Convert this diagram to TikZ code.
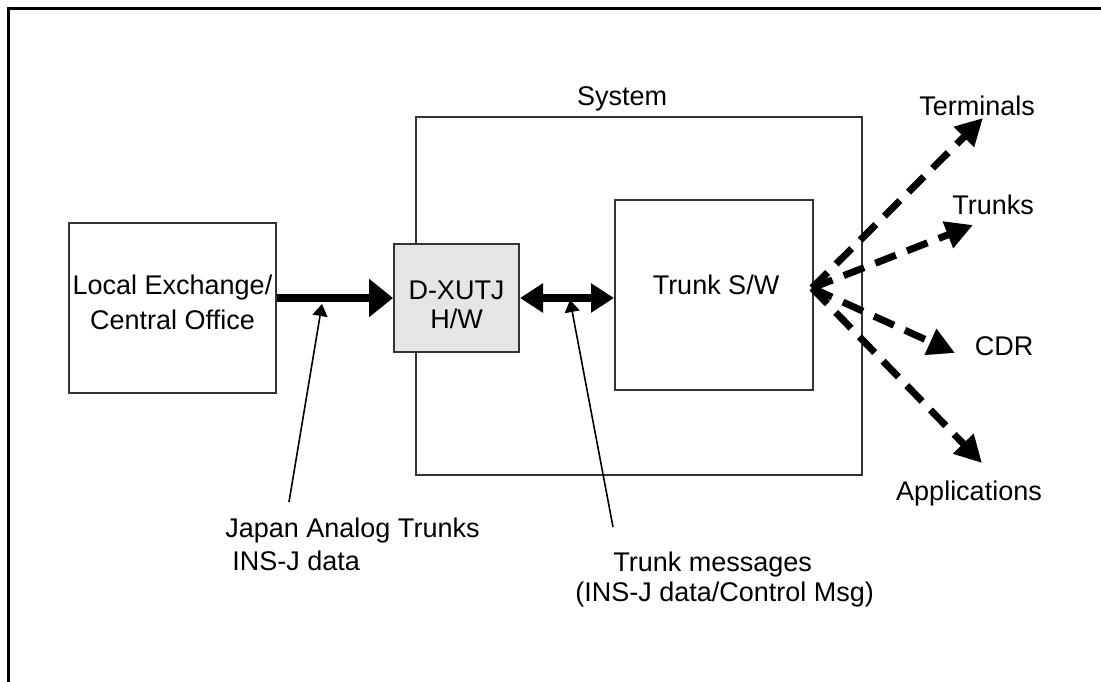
\documentclass[tikz,border=0pt]{standalone}
\usepackage{fontspec}
\setmainfont{Liberation Sans}
\usetikzlibrary{arrows.meta}

\begin{document}
\begin{tikzpicture}[x=0.5pt,y=-0.5pt,
    box/.style={draw=black!80,line width=1pt,inner sep=0pt},
    lbl/.style={inner sep=0pt,font=\fontsize{13.5}{16}\selectfont},
    bigarrow/.style={line width=4pt,-{Triangle[length=12pt,width=18.5pt]}},
    dblarrow/.style={line width=4pt,{Triangle[length=11.5pt,width=14pt]}-{Triangle[length=11.5pt,width=14pt]}},
    dasharrow/.style={line width=3.5pt,dash pattern=on 11pt off 6pt,-{Triangle[length=13.5pt,width=13.5pt]}},
    pointer/.style={line width=0.8pt,-{Triangle[length=6pt,width=7.5pt]}}]
    \useasboundingbox (0,0) rectangle (1101,681);
    \draw [line width=1.5pt] (8.5,700) -- (8.5,8.5) -- (1120,8.5);% frame, runs off the page
    % boxes
    \node [box,minimum width=223pt,minimum height=179pt] (sys) at (639,296) {};
    \node [lbl,anchor=base] (systxt) at (622,105) {System};
    \node [box,minimum width=103.5pt,minimum height=85pt] (lec) at (172.5,308) {};
    \node [lbl,align=center] (lectxt) at (172.5,302) {Local Exchange/\\[1.5pt]Central Office};
    \node [box,fill=black!10,minimum width=62.5pt,minimum height=54pt] (hw) at (456.5,298) {};
    \node [lbl,align=center] (hwtxt) at (456.5,305) {D-XUTJ\\[-1.5pt]H/W};
    \node [box,minimum width=99pt,minimum height=95pt] (sw) at (714,295) {};
    \node [lbl] (swtxt) at (716,285) {Trunk S/W};
    % links
    \draw [bigarrow] (lec.east |- hw.west) -- (hw.west);
    \draw [dblarrow] (hw.east) -- (hw.east -| sw.west);
    % fan out of the trunk software
    \coordinate (hub) at (812,288);
    \coordinate (toterm) at (983,118);
    \coordinate (totrunk) at (973,225);
    \coordinate (tocdr) at (955,353);
    \coordinate (toapp) at (982,463);
    \foreach \t in {toterm,totrunk,tocdr,toapp}
        \draw [dasharrow] (hub) -- (\t);
    \node [lbl,anchor=base] (term) at (977,115) {Terminals};
    \node [lbl,anchor=base] (trk) at (993,214) {Trunks};
    \node [lbl,anchor=base] (cdr) at (1004,355) {CDR};
    \node [lbl,anchor=base] (app) at (969,500) {Applications};
    % callouts
    \coordinate (jatip) at (322,304);
    \coordinate (jaend) at (289,502);
    \draw [pointer] (jaend) -- (jatip);
    \node [lbl,anchor=north west,align=left] (jatxt) at (225,518)
        {Japan Analog Trunks\\[0.5pt]\hspace{3.5pt}INS-J data};
    \coordinate (tmtip) at (570,300);
    \coordinate (tmend) at (613,527);
    \draw [pointer] (tmend) -- (tmtip);
    \node [lbl,anchor=north west,align=left] (tmtxt) at (575,552)
        {\hspace{19pt}Trunk messages\\[-1pt](INS-J data/Control Msg)};
\end{tikzpicture}
\end{document}
